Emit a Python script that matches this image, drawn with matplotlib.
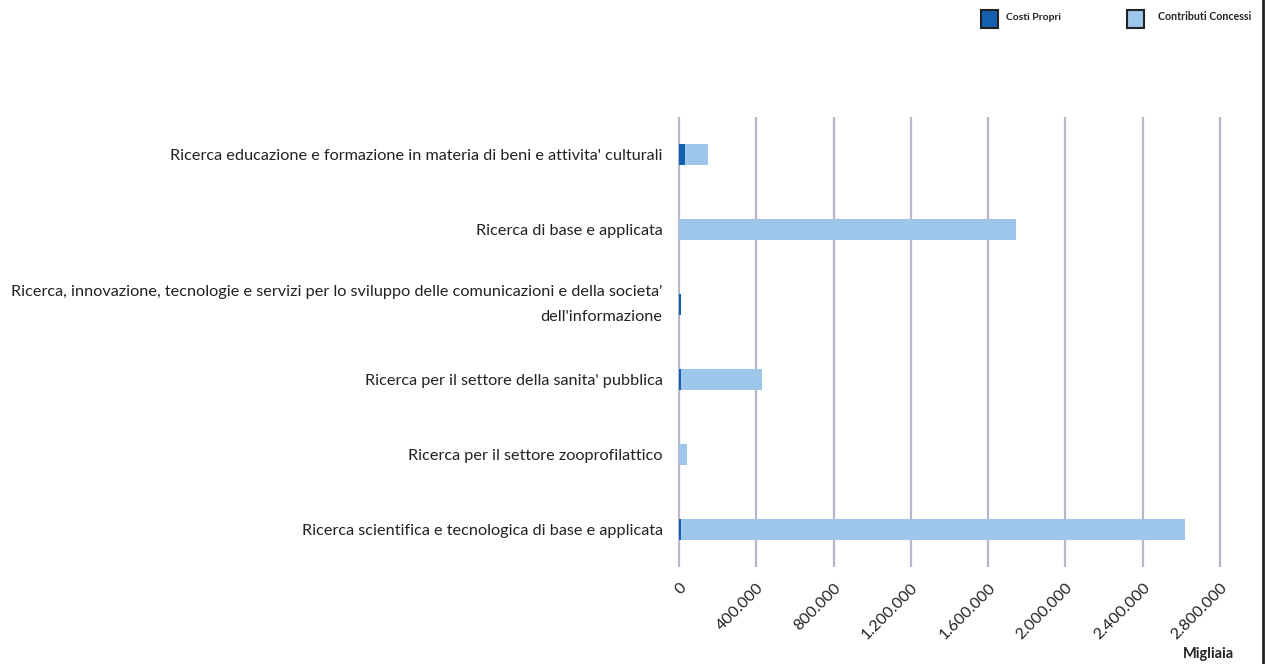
import matplotlib
matplotlib.use("Agg")
import matplotlib.pyplot as plt
from matplotlib.patches import Rectangle
from matplotlib.lines import Line2D

categories = [
    "Ricerca educazione e formazione in materia di beni e attivita' culturali",
    "Ricerca di base e applicata",
    "Ricerca, innovazione, tecnologie e servizi per lo sviluppo delle comunicazioni e della societa'\ndell'informazione",
    "Ricerca per il settore della sanita' pubblica",
    "Ricerca per il settore zooprofilattico",
    "Ricerca scientifica e tecnologica di base e applicata",
]
costi_propri = [33000, 0, 10000, 8000, 0, 8000]
contributi_concessi = [117000, 1743000, 0, 420000, 40000, 2610000]
xticks = [0, 400000, 800000, 1200000, 1600000, 2000000, 2400000, 2800000]
xtick_labels = ["0", "400.000", "800.000", "1.200.000", "1.600.000", "2.000.000", "2.400.000", "2.800.000"]

dark = "#1560B0"
light = "#9DC6EA"
grid_c = "#B9B6CC"

plt.rcParams['font.family'] = ['Lato', 'DejaVu Sans']

W, H = 1266, 664
fig = plt.figure(figsize=(W / 100, H / 100), dpi=100)
x0, x1 = 678, 1222
y0, y1 = 117, 567
ax = fig.add_axes([x0 / W, 1 - y1 / H, (x1 - x0) / W, (y1 - y0) / H])

ypos = list(range(len(categories)))
ax.barh(ypos, costi_propri, height=0.27, color=dark, zorder=3)
ax.barh(ypos, contributi_concessi, left=costi_propri, height=0.27, color=light, zorder=3)

ax.set_ylim(len(categories) - 0.5, -0.5)
px = 2800000 / 541
ax.set_xlim(-px, -px + (x1 - x0) * px)
ax.set_xticks(xticks)
ax.set_xticklabels(xtick_labels, rotation=45, ha="right", va="top",
                   rotation_mode="anchor", fontsize=11.5, color="#222222")
ax.set_yticks(ypos)
ylabels = ax.set_yticklabels(categories, fontsize=11.7, color="#222222", linespacing=1.95)
for lab in ylabels:
    if "\n" in lab.get_text():
        lab.set_va("center")
ax.tick_params(axis="y", length=0, pad=11)
ax.tick_params(axis="x", length=0, pad=10)
for s in ax.spines.values():
    s.set_visible(False)
ax.xaxis.grid(True, color=grid_c, linewidth=1.6, zorder=0)
ax.set_axisbelow(True)

# legend
fig.patches.append(Rectangle((981 / W, 1 - 28 / H), 17 / W, 18 / H, transform=fig.transFigure,
                             facecolor=dark, edgecolor="#222222", linewidth=1.5))
fig.text(1006 / W, 1 - 17 / H, "Costi Propri", fontsize=7.5, fontweight="bold",
         va="center", ha="left", color="#222222")
fig.patches.append(Rectangle((1127 / W, 1 - 28 / H), 17 / W, 18 / H, transform=fig.transFigure,
                             facecolor=light, edgecolor="#222222", linewidth=1.5))
fig.text(1158 / W, 1 - 17 / H, "Contributi Concessi", fontsize=7.7, fontweight="bold",
         va="center", ha="left", color="#222222")

fig.text(1208 / W, 1 - 654 / H, "Migliaia", fontsize=10.5, fontweight="bold",
         ha="center", va="center", color="#222222")

fig.lines.append(Line2D([1262.5 / W, 1262.5 / W], [0, 1], transform=fig.transFigure,
                        color="#222222", linewidth=2))

fig.savefig("out.png", dpi=100)
